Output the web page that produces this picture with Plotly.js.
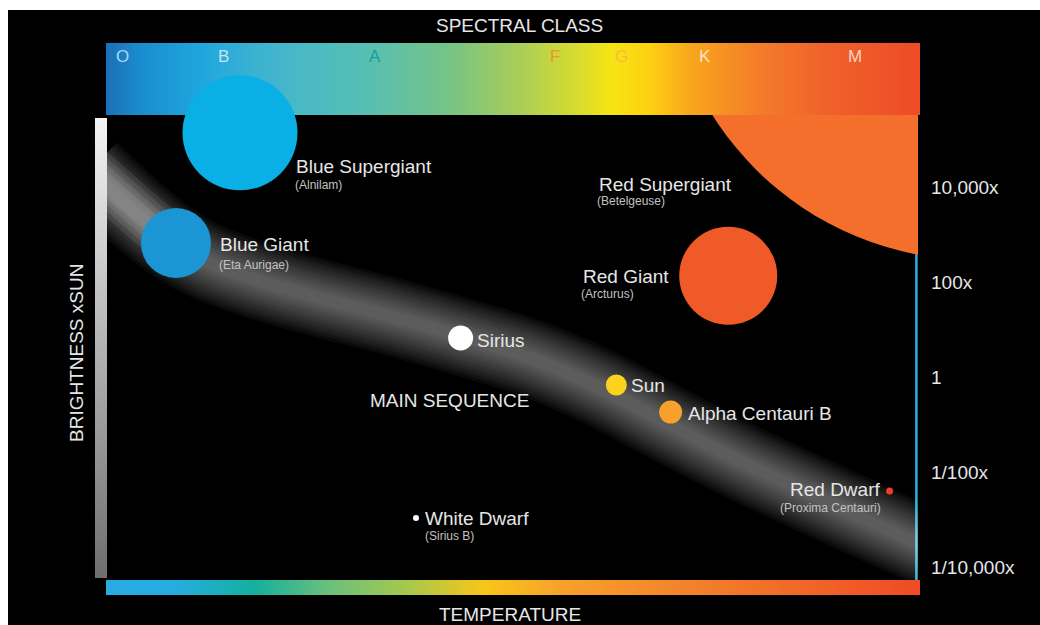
<!DOCTYPE html>
<html>
<head>
<meta charset="utf-8">
<script src="https://cdn.plot.ly/plotly-3.0.1.min.js"></script>
<style>
html,body{margin:0;padding:0;background:#000;overflow:hidden}
#chart{width:1040px;height:625px}
</style>
</head>
<body>
<div id="chart"></div>
<script>
// ---------------- DATA ----------------
// Stars: position along the temperature axis (0 = hottest/left, 100 = coolest/right)
// and log10 of brightness relative to the Sun.
const starNames = ['Blue Supergiant','Blue Giant','Red Supergiant','Red Giant','Sirius','Sun','Alpha Centauri B','Red Dwarf','White Dwarf'];
const starExamples = ['Alnilam','Eta Aurigae','Betelgeuse','Arcturus','','','','Proxima Centauri','Sirius B'];
const starTemp = [16.4, 8.5, 107.0, 76.6, 43.6, 62.8, 69.5, 96.5, 38.1];
const starLogBrightness = [5.15, 2.83, 9.0, 2.14, 0.83, -0.16, -0.73, -2.39, -2.96];

// Main sequence band (centre line)
const msTemp = [-2.1, 2.84, 7.77, 12.7, 18.87, 26.26, 34.9, 43.53, 52.16, 60.79, 69.42, 78.05, 86.68, 95.31, 102.71];
const msLogBrightness = [4.37, 3.57, 2.89, 2.41, 2.03, 1.67, 1.29, 0.87, 0.41, -0.22, -1.0, -1.76, -2.45, -3.13, -3.7];

// Spectral classes along the temperature axis
const spectralClasses = ['O','B','A','F','G','K','M'];
const spectralPos = [1.85, 14.4, 33.0, 55.2, 63.5, 73.7, 92.2];

// Brightness axis ticks (log10 x Sun)
const brightnessTickVals = [4, 2, 0, -2, -4];
const brightnessTickText = ['10,000x','100x','1','1/100x','1/10,000x'];

// ---------------- STYLES ----------------
const starColors = ['#0aafe6','#1b95d3','#f36f2b','#f05a28','#ffffff','#fcd21c','#f7a12c','#ee3d2a','#ffffff'];
const starSizes = [115, 70, 620, 98, 25, 21, 23, 7, 6];
const starClipped = [false, false, true, false, false, false, false, false, false];
const classColors = ['#a9d9f2','#c5e4f3','#1a9c9c','#f7931e','#fbb848','#fde3c8','#f8d2c2'];

const spectralGrad = [[0,'#1b6fb6'],[0.042,'#1a8dd0'],[0.115,'#1fa6de'],[0.183,'#3bb2d2'],[0.238,'#49b9c6'],
  [0.316,'#55bfb4'],[0.421,'#76c386'],[0.507,'#aacd58'],[0.582,'#d9dd2c'],[0.62,'#f6e514'],[0.668,'#fdcf10'],
  [0.721,'#f8a41e'],[0.803,'#f37c2a'],[0.889,'#f0602a'],[1,'#ee4b27']];
const tempGrad = [[0,'#29abe2'],[0.086,'#25ade0'],[0.18,'#13b09e'],[0.275,'#6cc07c'],[0.368,'#a6c84c'],
  [0.463,'#f8c51a'],[0.557,'#f8a22a'],[0.73,'#f27f2a'],[1,'#ef4b25']];
const brightGrad = [[0,'#6e6e6e'],[0.5,'#b2b2b2'],[1,'#f4f4f4']];

const W = 1040, H = 625;
const MAIN = {l:107, r:918, t:115, b:580};
const XR = [0, 100], YR = [-4.265, 5.525];
const dx = (a, b) => [a / W, b / W];
const dy = (top, bottom) => [1 - bottom / H, 1 - top / H];
const FONT = 'Liberation Sans, Arial, Helvetica, sans-serif';
const TXT = '#e6e6e6', SUB = '#c2c2c2';

function gradientTrace(grad, xa, ya, vertical) {
  const pos = grad.map(g => g[0]);
  const z = vertical ? pos.map(p => [p, p]) : [pos, pos];
  const t = {type:'heatmap', z: z, colorscale: grad, zmin:0, zmax:1, zsmooth:'best',
    showscale:false, hoverinfo:'skip', xaxis: xa, yaxis: ya};
  if (vertical) { t.y = pos; t.x = [0, 1]; } else { t.x = pos; t.y = [0, 1]; }
  return t;
}

const traces = [];
// Spectral class bar (primary axes so it sits beneath the stars)
traces.push(gradientTrace(spectralGrad, 'x', 'y', false));

// Main-sequence glow: many faint stacked strokes give a soft edge
const glowWidths = [78, 72, 66, 60, 54, 48, 42, 36, 30, 24, 18, 12];
glowWidths.forEach(w => traces.push({
  type:'scatter', mode:'lines', x: msTemp, y: msLogBrightness, xaxis:'x2', yaxis:'y2',
  line:{color:'rgba(255,255,255,0.04)', width:w, shape:'spline', smoothing:1},
  hoverinfo:'skip', showlegend:false
}));
// brighter upper-left part of the band (ends hidden under the Blue Giant)
[50, 40, 30, 20].forEach(w => traces.push({
  type:'scatter', mode:'lines', x: msTemp.slice(0, 3), y: msLogBrightness.slice(0, 3), xaxis:'x2', yaxis:'y2',
  line:{color:'rgba(255,255,255,0.07)', width:w},
  hoverinfo:'skip', showlegend:false
}));

// Stars (the huge clipped Red Supergiant is drawn as a circle shape on the same axes)
starNames.forEach((n, i) => {
  if (starClipped[i]) return;
  traces.push({
    type:'scatter', mode:'markers', name:n, x:[starTemp[i]], y:[starLogBrightness[i]], xaxis:'x2', yaxis:'y2',
    marker:{color:starColors[i], size:starSizes[i], line:{width:0}, opacity:1},
    cliponaxis:false, hoverinfo:'name', showlegend:false
  });
});

// Brightness (left) and temperature (bottom) bars
traces.push(gradientTrace(brightGrad, 'x3', 'y3', true));
traces.push(gradientTrace(tempGrad, 'x4', 'y4', false));

// ---------------- SHAPES ----------------
const pxPerX = (MAIN.r - MAIN.l) / (XR[1] - XR[0]);
const pxPerY = (MAIN.b - MAIN.t) / (YR[1] - YR[0]);
const shapes = [
  {type:'line', xref:'x2', yref:'y2', x0:99.8, x1:99.8, y0:YR[0], y1:YR[1], layer:'below',
    line:{color:'#27b3dc', width:2.5}}
];
starNames.forEach((n, i) => {
  if (!starClipped[i]) return;
  const r = starSizes[i] / 2;
  shapes.push({type:'circle', xref:'x2', yref:'y2', layer:'below',
    x0: starTemp[i] - r / pxPerX, x1: starTemp[i] + r / pxPerX,
    y0: starLogBrightness[i] - r / pxPerY, y1: starLogBrightness[i] + r / pxPerY,
    fillcolor: starColors[i], line:{width:0}});
});
shapes.push({type:'rect', xref:'paper', yref:'paper', x0:0, x1:8 / W, y0:0, y1:1, layer:'above',
  fillcolor:'#ffffff', line:{width:0}});
shapes.push({type:'rect', xref:'paper', yref:'paper', x0:0, x1:1, y0:1 - 10 / H, y1:1, layer:'above',
  fillcolor:'#ffffff', line:{width:0}});

// ---------------- ANNOTATIONS ----------------
// label positions (data units of the main axes)
const nameLabelPos = [[23.18,4.45,'left'],[13.81,2.79,'left'],[60.54,4.07,'left'],[58.57,2.13,'left'],
  [45.5,0.77,'left'],[64.49,-0.18,'left'],[71.52,-0.77,'left'],[95.44,-2.37,'right'],[39.09,-2.96,'left']];
const subLabelPos = [[23.06,4.05,'left'],[13.69,2.37,'left'],[60.3,3.71,'left'],[58.32,1.76,'left'],
  null,null,null,[95.56,-2.75,'right'],[39.09,-3.34,'left']];

const annotations = [];
starNames.forEach((n, i) => {
  const p = nameLabelPos[i];
  annotations.push({xref:'x2', yref:'y2', x:p[0], y:p[1], xanchor:p[2], yanchor:'middle', text:n,
    showarrow:false, font:{family:FONT, size:19, color:TXT}, borderpad:0});
  if (starExamples[i]) {
    const s = subLabelPos[i];
    annotations.push({xref:'x2', yref:'y2', x:s[0], y:s[1], xanchor:s[2], yanchor:'middle',
      text:'(' + starExamples[i] + ')', showarrow:false, font:{family:FONT, size:12, color:SUB}, borderpad:0});
  }
});
annotations.push({xref:'x2', yref:'y2', x:42.29, y:-0.49, xanchor:'center', yanchor:'middle', text:'MAIN SEQUENCE',
  showarrow:false, font:{family:FONT, size:19, color:TXT}});
spectralClasses.forEach((c, i) => annotations.push({xref:'x2', yref:'paper', x:spectralPos[i], y:1 - 57 / H,
  xanchor:'center', yanchor:'middle', text:c, showarrow:false, font:{family:FONT, size:17, color:classColors[i]}}));
annotations.push({xref:'paper', yref:'paper', x:519 / W, y:1 - 25 / H, xanchor:'center', yanchor:'middle',
  text:'SPECTRAL CLASS', showarrow:false, font:{family:FONT, size:19, color:TXT}});
annotations.push({xref:'paper', yref:'paper', x:510 / W, y:1 - 614 / H, xanchor:'center', yanchor:'middle',
  text:'TEMPERATURE', showarrow:false, font:{family:FONT, size:19, color:TXT}});
annotations.push({xref:'paper', yref:'paper', x:76 / W, y:1 - 353 / H, xanchor:'center', yanchor:'middle',
  text:'BRIGHTNESS xSUN', textangle:-90, showarrow:false, font:{family:FONT, size:19, color:TXT}});

const hidden = {showgrid:false, zeroline:false, showline:false, showticklabels:false, ticks:'', fixedrange:true};

const layout = {
  width: W, height: H,
  margin:{l:0, r:0, t:0, b:0, pad:0},
  paper_bgcolor:'#000', plot_bgcolor:'rgba(0,0,0,0)',
  showlegend:false,
  font:{family:FONT, color:TXT},
  xaxis: Object.assign({domain:dx(106, 920), range:[0, 1], anchor:'y'}, hidden),
  yaxis: Object.assign({domain:dy(43, 115), range:[0, 1], anchor:'x'}, hidden),
  xaxis2: Object.assign({domain:dx(MAIN.l, MAIN.r), range:XR, anchor:'y2'}, hidden),
  yaxis2: {domain:dy(MAIN.t, MAIN.b), range:YR, anchor:'x2', side:'right',
    tickvals: brightnessTickVals, ticktext: brightnessTickText, ticks:'', ticklabelstandoff:12,
    tickfont:{family:FONT, size:19, color:TXT}, showgrid:false, zeroline:false, showline:false, fixedrange:true},
  xaxis3: Object.assign({domain:dx(95, 107), range:[0, 1], anchor:'y3'}, hidden),
  yaxis3: Object.assign({domain:dy(118, 578), range:[0, 1], anchor:'x3'}, hidden),
  xaxis4: Object.assign({domain:dx(106, 920), range:[0, 1], anchor:'y4'}, hidden),
  yaxis4: Object.assign({domain:dy(580, 595), range:[0, 1], anchor:'x4'}, hidden),
  shapes: shapes,
  annotations: annotations
};

Plotly.newPlot('chart', traces, layout, {displayModeBar:false, staticPlot:true});
</script>
</body>
</html>
